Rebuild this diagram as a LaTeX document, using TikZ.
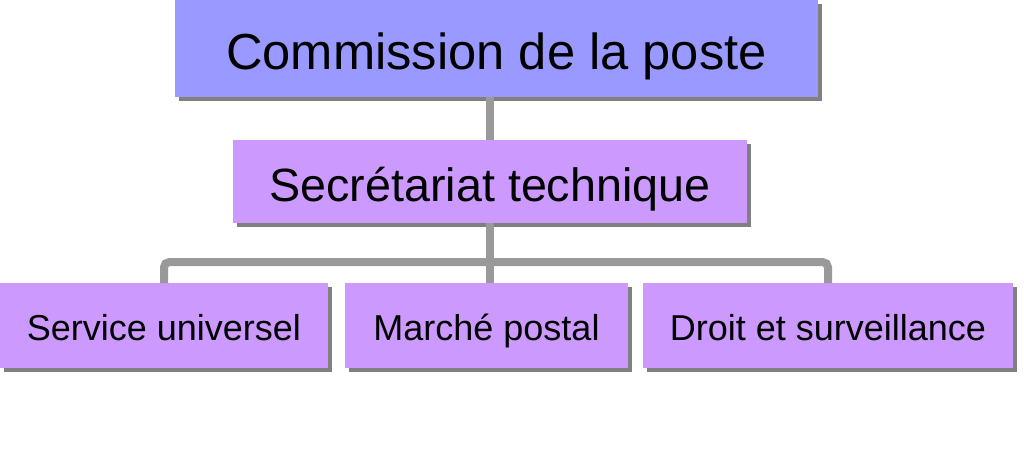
\documentclass[tikz,border=0pt]{standalone}
\usepackage{fontspec}
\setmainfont{Liberation Sans}
\usetikzlibrary{shadows}
\definecolor{fillBlue}{RGB}{153,153,255}
\definecolor{fillLilac}{RGB}{204,153,255}
\definecolor{drawColor}{RGB}{153,153,153}
\definecolor{shadowColor}{RGB}{128,128,128}
\tikzset{
  orgbox/.style={fill=fillLilac,inner sep=0pt,outer sep=0pt,
    font=\fontsize{#1pt}{#1pt}\selectfont,
    text height=0.84*#1pt,text depth=0pt,
    drop shadow={shadow xshift=3pt,shadow yshift=-3pt,fill=shadowColor,opacity=1}},
  link/.style={draw=drawColor,line width=6pt,rounded corners=4pt}
}
\begin{document}
\begin{tikzpicture}[x=0.75pt,y=0.75pt]
\path[use as bounding box,fill=white] (0,0) rectangle (1024,469);

\node[orgbox=38,fill=fillBlue,minimum width=482.25pt,minimum height=72.75pt]
  (comm) at (496.5,420.5) {Commission de la poste};

\node[orgbox=35,minimum width=385.5pt,minimum height=62.25pt]
  (secr) at (490,287.5) {Secrétariat technique};

\node[orgbox=27,minimum width=246pt,minimum height=63.75pt]
  (serv) at (164,143.5) {Service universel};
\node[orgbox=27,minimum width=212.25pt,minimum height=63.75pt]
  (marc) at (486.5,143.5) {Marché postal};
\node[orgbox=27,minimum width=277.5pt,minimum height=63.75pt]
  (droi) at (828,143.5) {Droit et surveillance};

\coordinate (bar) at (secr.south |- 0,207);

\draw[link] (comm.south -| secr.south) -- (secr.north);
\draw[link] (secr.south) -- (secr.south |- marc.north);
\draw[link] (serv.north) |- (bar) -| (droi.north);
\end{tikzpicture}
\end{document}
